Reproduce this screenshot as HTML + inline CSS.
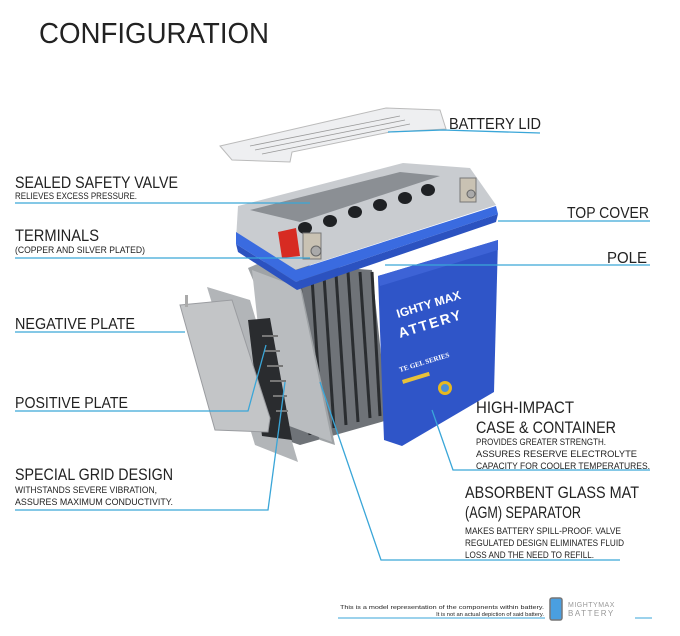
<!DOCTYPE html>
<html><head><meta charset="utf-8"><style>
html,body{margin:0;padding:0;background:#fff;}
svg{display:block;font-family:"Liberation Sans",sans-serif;}
</style></head><body>
<svg width="680" height="636" viewBox="0 0 680 636" xmlns="http://www.w3.org/2000/svg">
<rect width="680" height="636" fill="#fff"/>
<text x="39" y="43" font-size="29" fill="#222" textLength="230" lengthAdjust="spacingAndGlyphs">CONFIGURATION</text>

<!-- battery lid -->
<polygon points="220,146 386,108 440,110 446,129 390,132 292,152 290,162 232,160" fill="#eeeff1" stroke="#bbb" stroke-width="1"/>
<g stroke="#999" stroke-width="0.8">
<line x1="250" y1="146" x2="400" y2="116"/><line x1="255" y1="150" x2="405" y2="120"/><line x1="262" y1="154" x2="410" y2="124"/>
</g>

<!-- plates stack behind -->
<g>
<polygon points="262,262 372,270 388,420 300,445 262,432" fill="#6f7378"/>
<g stroke="#2a2d30" stroke-width="3">
<line x1="300" y1="280" x2="310" y2="435"/><line x1="312" y1="278" x2="322" y2="432"/><line x1="324" y1="276" x2="334" y2="428"/><line x1="336" y1="274" x2="346" y2="425"/><line x1="348" y1="272" x2="358" y2="422"/><line x1="360" y1="272" x2="370" y2="418"/><line x1="372" y1="272" x2="380" y2="416"/>
</g>
<polygon points="248,268 262,262 300,282 335,445 320,440" fill="#9fa3a6"/>
<polygon points="252,270 300,288 332,442 268,418" fill="#b9bcbf"/>
</g>
<!-- grid plate -->
<polygon points="207,287 250,300 298,462 255,445" fill="#b2b5b8"/>
<polygon points="248,320 270,318 292,440 262,436" fill="#2a2c2f"/>
<g fill="#777"><rect x="262" y="335" width="16" height="2"/><rect x="264" y="350" width="16" height="2"/><rect x="267" y="365" width="16" height="2"/><rect x="270" y="380" width="16" height="2"/><rect x="273" y="395" width="14" height="2"/><rect x="276" y="410" width="12" height="2"/></g>
<!-- negative plate -->
<polygon points="180,305 232,300 270,418 268,432 215,430" fill="#c3c5c7" stroke="#9a9ca0" stroke-width="1"/>
<rect x="185" y="295" width="3" height="12" fill="#aaa"/>

<!-- blue body -->
<polygon points="378,276 498,240 494,392 402,446 384,440" fill="#2f55c8"/>
<polygon points="378,276 498,240 498,250 380,286" fill="#3d63d6"/>
<text x="398" y="318" font-size="12" fill="#fff" transform="rotate(-17 398 318)" font-weight="bold">IGHTY MAX</text>
<text x="400" y="338" font-size="14" fill="#fff" transform="rotate(-17 400 338)" font-weight="bold" letter-spacing="2">ATTERY</text>
<text x="400" y="372" font-size="7" fill="#fff" transform="rotate(-17 400 372)" font-family="Liberation Serif,serif" font-weight="bold">TE GEL SERIES</text>
<rect x="402" y="380" width="28" height="4" fill="#e8c23a" transform="rotate(-17 402 380)"/>
<circle cx="445" cy="388" r="7" fill="#e6b820"/><circle cx="445" cy="388" r="4" fill="#4a8fd8"/>

<!-- top cover -->
<polygon points="238,206 403,163 470,168 496,205 295,270 236,240" fill="#c9ccd0"/>
<polygon points="250,210 400,172 440,176 300,222" fill="#8b8f94"/>
<g fill="#1f2124"><ellipse cx="305" cy="228" rx="7" ry="6"/><ellipse cx="330" cy="221" rx="7" ry="6"/><ellipse cx="355" cy="212" rx="7" ry="6"/><ellipse cx="380" cy="205" rx="7" ry="6"/><ellipse cx="405" cy="198" rx="7" ry="6"/><ellipse cx="428" cy="190" rx="7" ry="6"/></g>
<polygon points="236,232 296,270 496,206 498,214 296,282 236,244" fill="#3a6be0"/>
<polygon points="236,244 296,282 498,214 496,222 297,290 238,252" fill="#2b52c0"/>
<polygon points="278,232 296,228 300,256 282,258" fill="#d72b22"/>
<rect x="303" y="233" width="18" height="26" fill="#c9c2b3" stroke="#777" stroke-width="1"/>
<circle cx="316" cy="251" r="5" fill="#aaa" stroke="#666"/>
<rect x="460" y="178" width="16" height="24" fill="#c9c2b3" stroke="#777" stroke-width="1"/>
<circle cx="471" cy="194" r="4" fill="#aaa" stroke="#666"/>

<!-- leader lines -->
<g stroke="#3aa6d8" stroke-width="1.3" fill="none">
<polyline points="388,132 443,130 540,133"/>
<line x1="15" y1="203" x2="310" y2="203"/>
<line x1="498" y1="221" x2="650" y2="221"/>
<line x1="15" y1="258" x2="310" y2="258"/>
<line x1="385" y1="265" x2="650" y2="265"/>
<line x1="15" y1="332" x2="185" y2="332"/>
<polyline points="15,411 248,411 266,345"/>
<polyline points="15,510 268,510 285,382"/>
<polyline points="432,410 453,470 650,470"/>
<polyline points="320,382 381,560 620,560"/>
<line x1="338" y1="618" x2="545" y2="618" stroke-width="1"/>
<line x1="635" y1="618" x2="652" y2="618" stroke-width="1"/>
</g>

<!-- labels -->
<g fill="#222">
<text x="449" y="129" font-size="16" textLength="92" lengthAdjust="spacingAndGlyphs">BATTERY LID</text>
<text x="15" y="188" font-size="16.5" textLength="163" lengthAdjust="spacingAndGlyphs">SEALED SAFETY VALVE</text>
<text x="15" y="199" font-size="9.5" textLength="122" lengthAdjust="spacingAndGlyphs">RELIEVES EXCESS PRESSURE.</text>
<text x="567" y="218" font-size="16" textLength="82" lengthAdjust="spacingAndGlyphs">TOP COVER</text>
<text x="15" y="241" font-size="16.5" textLength="84" lengthAdjust="spacingAndGlyphs">TERMINALS</text>
<text x="15" y="253" font-size="9.5" textLength="130" lengthAdjust="spacingAndGlyphs">(COPPER AND SILVER PLATED)</text>
<text x="607" y="263" font-size="16" textLength="40" lengthAdjust="spacingAndGlyphs">POLE</text>
<text x="15" y="329" font-size="16" textLength="120" lengthAdjust="spacingAndGlyphs">NEGATIVE PLATE</text>
<text x="15" y="408" font-size="16" textLength="113" lengthAdjust="spacingAndGlyphs">POSITIVE PLATE</text>
<text x="476" y="413" font-size="16.5" textLength="98" lengthAdjust="spacingAndGlyphs">HIGH-IMPACT</text>
<text x="476" y="433" font-size="16.5" textLength="140" lengthAdjust="spacingAndGlyphs">CASE &amp; CONTAINER</text>
<text x="476" y="445" font-size="9.5" textLength="130" lengthAdjust="spacingAndGlyphs">PROVIDES GREATER STRENGTH.</text>
<text x="476" y="457" font-size="9.5" textLength="161" lengthAdjust="spacingAndGlyphs">ASSURES RESERVE ELECTROLYTE</text>
<text x="476" y="469" font-size="9.5" textLength="174" lengthAdjust="spacingAndGlyphs">CAPACITY FOR COOLER TEMPERATURES.</text>
<text x="15" y="480" font-size="16.5" textLength="158" lengthAdjust="spacingAndGlyphs">SPECIAL GRID DESIGN</text>
<text x="15" y="493" font-size="9.5" textLength="142" lengthAdjust="spacingAndGlyphs">WITHSTANDS SEVERE VIBRATION,</text>
<text x="15" y="505" font-size="9.5" textLength="158" lengthAdjust="spacingAndGlyphs">ASSURES MAXIMUM CONDUCTIVITY.</text>
<text x="465" y="498" font-size="16.5" textLength="174" lengthAdjust="spacingAndGlyphs">ABSORBENT GLASS MAT</text>
<text x="465" y="518" font-size="16.5" textLength="116" lengthAdjust="spacingAndGlyphs">(AGM) SEPARATOR</text>
<text x="465" y="534" font-size="9.5" textLength="156" lengthAdjust="spacingAndGlyphs">MAKES BATTERY SPILL-PROOF. VALVE</text>
<text x="465" y="546" font-size="9.5" textLength="159" lengthAdjust="spacingAndGlyphs">REGULATED DESIGN ELIMINATES FLUID</text>
<text x="465" y="558" font-size="9.5" textLength="129" lengthAdjust="spacingAndGlyphs">LOSS AND THE NEED TO REFILL.</text>
<text x="340" y="609" font-size="5.8" textLength="204" lengthAdjust="spacingAndGlyphs">This is a model representation of the components within battery.</text>
<text x="544" y="616" font-size="5.8" text-anchor="end">It is not an actual depiction of said battery.</text>
</g>
<!-- logo -->
<rect x="550" y="598" width="12" height="22" rx="2" fill="#4a9fe0" stroke="#777" stroke-width="1.5"/>
<text x="568" y="607" font-size="7" fill="#999" letter-spacing="0.5">MIGHTYMAX</text>
<text x="568" y="616" font-size="8" fill="#999" letter-spacing="1.5">BATTERY</text>
</svg>
</body></html>
